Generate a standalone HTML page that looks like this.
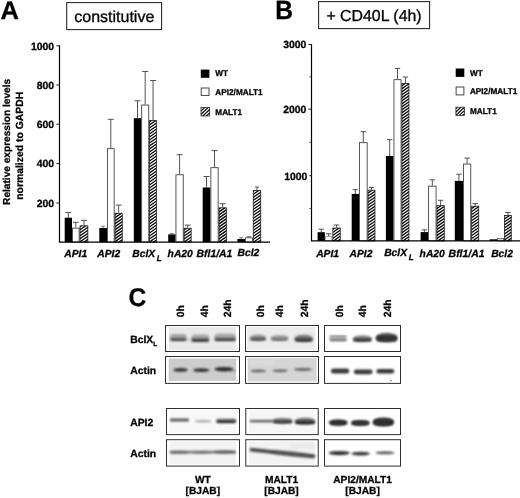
<!DOCTYPE html>
<html><head><meta charset="utf-8"><title>Figure</title>
<style>html,body{margin:0;padding:0;background:#fff;}svg{display:block;filter:blur(0.45px);}text{font-family:"Liberation Sans", Arial, sans-serif;fill:#000;text-rendering:geometricPrecision;}text[font-weight=bold],g[font-weight=bold] text{stroke:#000;stroke-width:0.28px;stroke-linejoin:round;}</style>
</head><body>
<svg width="520" height="498" viewBox="0 0 520 498">
<defs>
<filter id="b0" x="-30%" y="-150%" width="160%" height="400%"><feGaussianBlur stdDeviation="0.6"/></filter>
<filter id="b1" x="-30%" y="-150%" width="160%" height="400%"><feGaussianBlur stdDeviation="0.9"/></filter>
<filter id="b2" x="-30%" y="-150%" width="160%" height="400%"><feGaussianBlur stdDeviation="1.2"/></filter>
<filter id="b3" x="-30%" y="-150%" width="160%" height="400%"><feGaussianBlur stdDeviation="1.6"/></filter>
<filter id="soft" x="-5%" y="-5%" width="110%" height="110%"><feGaussianBlur stdDeviation="0.35"/></filter>
</defs>
<rect width="520" height="498" fill="#fff"/>
<g font-weight="bold">
<text x="0.6" y="18.8" font-size="25.5px">A</text>
<text transform="translate(275.3,19.1) scale(0.93,1)" font-size="26.4px">B</text>
<text transform="translate(128.6,305.5) scale(0.96,1)" font-size="25.6px">C</text>
</g>
<rect x="66.70" y="2.60" width="94.90" height="27.00" fill="#fff" stroke="#222" stroke-width="1.05"/>
<text x="114.30" y="22.30" font-size="16.0px" text-anchor="middle" stroke="#000" stroke-width="0.32">constitutive</text>
<rect x="318.60" y="1.60" width="111.00" height="27.00" fill="#fff" stroke="#222" stroke-width="1.05"/>
<text x="374.00" y="20.90" font-size="15.9px" text-anchor="middle" stroke="#000" stroke-width="0.32">+ CD40L (4h)</text>
<path d="M68.35 217.70 V212.60 M65.35 212.60 H71.35" stroke="#4a4a4a" stroke-width="0.95" fill="none"/>
<rect x="64.70" y="217.70" width="7.30" height="24.40" fill="#000"/>
<path d="M75.80 227.70 V222.30 M72.80 222.30 H78.80" stroke="#4a4a4a" stroke-width="0.95" fill="none"/>
<rect x="72.45" y="228.15" width="6.70" height="13.95" fill="#fff" stroke="#444" stroke-width="0.9"/>
<path d="M83.95 225.40 V220.30 M80.95 220.30 H86.95" stroke="#4a4a4a" stroke-width="0.95" fill="none"/>
<clipPath id="c1"><rect x="80.05" y="225.85" width="7.80" height="16.25"/></clipPath>
<rect x="80.05" y="225.85" width="7.80" height="16.25" fill="#fff"/>
<path d="M79.05 221.46 l9.80 -6.76 M79.05 224.46 l9.80 -6.76 M79.05 227.46 l9.80 -6.76 M79.05 230.46 l9.80 -6.76 M79.05 233.46 l9.80 -6.76 M79.05 236.46 l9.80 -6.76 M79.05 239.46 l9.80 -6.76 M79.05 242.46 l9.80 -6.76 M79.05 245.46 l9.80 -6.76 M79.05 248.46 l9.80 -6.76 M79.05 251.46 l9.80 -6.76 M79.05 254.46 l9.80 -6.76" stroke="#000" stroke-width="1.3" fill="none" clip-path="url(#c1)"/>
<rect x="80.05" y="225.85" width="7.80" height="16.25" fill="none" stroke="#111" stroke-width="0.75"/>
<path d="M103.15 228.00 V226.20 M101.15 226.20 H105.15" stroke="#777" stroke-width="0.95" fill="none"/>
<rect x="99.30" y="228.00" width="7.70" height="14.10" fill="#000"/>
<path d="M110.80 148.20 V119.30 M107.80 119.30 H113.80" stroke="#4a4a4a" stroke-width="0.95" fill="none"/>
<rect x="107.45" y="148.65" width="6.70" height="93.45" fill="#fff" stroke="#444" stroke-width="0.9"/>
<path d="M118.65 212.80 V205.10 M115.65 205.10 H121.65" stroke="#4a4a4a" stroke-width="0.95" fill="none"/>
<clipPath id="c2"><rect x="115.05" y="213.25" width="7.20" height="28.85"/></clipPath>
<rect x="115.05" y="213.25" width="7.20" height="28.85" fill="#fff"/>
<path d="M114.05 209.31 l9.20 -6.35 M114.05 212.31 l9.20 -6.35 M114.05 215.31 l9.20 -6.35 M114.05 218.31 l9.20 -6.35 M114.05 221.31 l9.20 -6.35 M114.05 224.31 l9.20 -6.35 M114.05 227.31 l9.20 -6.35 M114.05 230.31 l9.20 -6.35 M114.05 233.31 l9.20 -6.35 M114.05 236.31 l9.20 -6.35 M114.05 239.31 l9.20 -6.35 M114.05 242.31 l9.20 -6.35 M114.05 245.31 l9.20 -6.35 M114.05 248.31 l9.20 -6.35 M114.05 251.31 l9.20 -6.35 M114.05 254.31 l9.20 -6.35" stroke="#000" stroke-width="1.3" fill="none" clip-path="url(#c2)"/>
<rect x="115.05" y="213.25" width="7.20" height="28.85" fill="none" stroke="#111" stroke-width="0.75"/>
<path d="M137.50 118.20 V100.80 M134.50 100.80 H140.50" stroke="#4a4a4a" stroke-width="0.95" fill="none"/>
<rect x="133.80" y="118.20" width="7.40" height="123.90" fill="#000"/>
<path d="M145.20 104.60 V71.50 M142.20 71.50 H148.20" stroke="#4a4a4a" stroke-width="0.95" fill="none"/>
<rect x="141.65" y="105.05" width="7.10" height="137.05" fill="#fff" stroke="#444" stroke-width="0.9"/>
<path d="M153.05 120.00 V80.50 M150.05 80.50 H156.05" stroke="#4a4a4a" stroke-width="0.95" fill="none"/>
<clipPath id="c3"><rect x="149.65" y="120.45" width="6.80" height="121.65"/></clipPath>
<rect x="149.65" y="120.45" width="6.80" height="121.65" fill="#fff"/>
<path d="M148.65 116.43 l8.80 -6.07 M148.65 119.43 l8.80 -6.07 M148.65 122.43 l8.80 -6.07 M148.65 125.43 l8.80 -6.07 M148.65 128.43 l8.80 -6.07 M148.65 131.43 l8.80 -6.07 M148.65 134.43 l8.80 -6.07 M148.65 137.43 l8.80 -6.07 M148.65 140.43 l8.80 -6.07 M148.65 143.43 l8.80 -6.07 M148.65 146.43 l8.80 -6.07 M148.65 149.43 l8.80 -6.07 M148.65 152.43 l8.80 -6.07 M148.65 155.43 l8.80 -6.07 M148.65 158.43 l8.80 -6.07 M148.65 161.43 l8.80 -6.07 M148.65 164.43 l8.80 -6.07 M148.65 167.43 l8.80 -6.07 M148.65 170.43 l8.80 -6.07 M148.65 173.43 l8.80 -6.07 M148.65 176.43 l8.80 -6.07 M148.65 179.43 l8.80 -6.07 M148.65 182.43 l8.80 -6.07 M148.65 185.43 l8.80 -6.07 M148.65 188.43 l8.80 -6.07 M148.65 191.43 l8.80 -6.07 M148.65 194.43 l8.80 -6.07 M148.65 197.43 l8.80 -6.07 M148.65 200.43 l8.80 -6.07 M148.65 203.43 l8.80 -6.07 M148.65 206.43 l8.80 -6.07 M148.65 209.43 l8.80 -6.07 M148.65 212.43 l8.80 -6.07 M148.65 215.43 l8.80 -6.07 M148.65 218.43 l8.80 -6.07 M148.65 221.43 l8.80 -6.07 M148.65 224.43 l8.80 -6.07 M148.65 227.43 l8.80 -6.07 M148.65 230.43 l8.80 -6.07 M148.65 233.43 l8.80 -6.07 M148.65 236.43 l8.80 -6.07 M148.65 239.43 l8.80 -6.07 M148.65 242.43 l8.80 -6.07 M148.65 245.43 l8.80 -6.07 M148.65 248.43 l8.80 -6.07 M148.65 251.43 l8.80 -6.07" stroke="#000" stroke-width="1.3" fill="none" clip-path="url(#c3)"/>
<rect x="149.65" y="120.45" width="6.80" height="121.65" fill="none" stroke="#111" stroke-width="0.75"/>
<path d="M171.85 234.40 V233.50 M169.85 233.50 H173.85" stroke="#777" stroke-width="0.95" fill="none"/>
<rect x="168.20" y="234.40" width="7.30" height="7.70" fill="#000"/>
<path d="M179.60 174.30 V154.70 M176.60 154.70 H182.60" stroke="#4a4a4a" stroke-width="0.95" fill="none"/>
<rect x="175.95" y="174.75" width="7.30" height="67.35" fill="#fff" stroke="#444" stroke-width="0.9"/>
<path d="M187.65 227.80 V225.10 M184.65 225.10 H190.65" stroke="#4a4a4a" stroke-width="0.95" fill="none"/>
<clipPath id="c4"><rect x="184.15" y="228.25" width="7.00" height="13.85"/></clipPath>
<rect x="184.15" y="228.25" width="7.00" height="13.85" fill="#fff"/>
<path d="M183.15 224.63 l9.00 -6.21 M183.15 227.63 l9.00 -6.21 M183.15 230.63 l9.00 -6.21 M183.15 233.63 l9.00 -6.21 M183.15 236.63 l9.00 -6.21 M183.15 239.63 l9.00 -6.21 M183.15 242.63 l9.00 -6.21 M183.15 245.63 l9.00 -6.21 M183.15 248.63 l9.00 -6.21 M183.15 251.63 l9.00 -6.21" stroke="#000" stroke-width="1.3" fill="none" clip-path="url(#c4)"/>
<rect x="184.15" y="228.25" width="7.00" height="13.85" fill="none" stroke="#111" stroke-width="0.75"/>
<path d="M206.55 187.50 V176.50 M203.55 176.50 H209.55" stroke="#4a4a4a" stroke-width="0.95" fill="none"/>
<rect x="202.70" y="187.50" width="7.70" height="54.60" fill="#000"/>
<path d="M214.50 167.20 V150.60 M211.50 150.60 H217.50" stroke="#4a4a4a" stroke-width="0.95" fill="none"/>
<rect x="210.85" y="167.65" width="7.30" height="74.45" fill="#fff" stroke="#444" stroke-width="0.9"/>
<path d="M222.70 207.40 V203.70 M219.70 203.70 H225.70" stroke="#4a4a4a" stroke-width="0.95" fill="none"/>
<clipPath id="c5"><rect x="219.05" y="207.85" width="7.30" height="34.25"/></clipPath>
<rect x="219.05" y="207.85" width="7.30" height="34.25" fill="#fff"/>
<path d="M218.05 203.55 l9.30 -6.42 M218.05 206.55 l9.30 -6.42 M218.05 209.55 l9.30 -6.42 M218.05 212.55 l9.30 -6.42 M218.05 215.55 l9.30 -6.42 M218.05 218.55 l9.30 -6.42 M218.05 221.55 l9.30 -6.42 M218.05 224.55 l9.30 -6.42 M218.05 227.55 l9.30 -6.42 M218.05 230.55 l9.30 -6.42 M218.05 233.55 l9.30 -6.42 M218.05 236.55 l9.30 -6.42 M218.05 239.55 l9.30 -6.42 M218.05 242.55 l9.30 -6.42 M218.05 245.55 l9.30 -6.42 M218.05 248.55 l9.30 -6.42 M218.05 251.55 l9.30 -6.42" stroke="#000" stroke-width="1.3" fill="none" clip-path="url(#c5)"/>
<rect x="219.05" y="207.85" width="7.30" height="34.25" fill="none" stroke="#111" stroke-width="0.75"/>
<path d="M241.25 239.00 V237.70 M239.25 237.70 H243.25" stroke="#777" stroke-width="0.95" fill="none"/>
<rect x="237.40" y="239.00" width="7.70" height="3.10" fill="#000"/>
<path d="M248.95 237.30 V236.50 M246.95 236.50 H250.95" stroke="#777" stroke-width="0.95" fill="none"/>
<rect x="245.55" y="237.75" width="6.80" height="4.35" fill="#fff" stroke="#444" stroke-width="0.9"/>
<path d="M257.00 190.00 V187.00 M255.00 187.00 H259.00" stroke="#4a4a4a" stroke-width="0.95" fill="none"/>
<clipPath id="c6"><rect x="253.25" y="190.45" width="7.50" height="51.65"/></clipPath>
<rect x="253.25" y="190.45" width="7.50" height="51.65" fill="#fff"/>
<path d="M252.25 185.95 l9.50 -6.55 M252.25 188.95 l9.50 -6.55 M252.25 191.95 l9.50 -6.55 M252.25 194.95 l9.50 -6.55 M252.25 197.95 l9.50 -6.55 M252.25 200.95 l9.50 -6.55 M252.25 203.95 l9.50 -6.55 M252.25 206.95 l9.50 -6.55 M252.25 209.95 l9.50 -6.55 M252.25 212.95 l9.50 -6.55 M252.25 215.95 l9.50 -6.55 M252.25 218.95 l9.50 -6.55 M252.25 221.95 l9.50 -6.55 M252.25 224.95 l9.50 -6.55 M252.25 227.95 l9.50 -6.55 M252.25 230.95 l9.50 -6.55 M252.25 233.95 l9.50 -6.55 M252.25 236.95 l9.50 -6.55 M252.25 239.95 l9.50 -6.55 M252.25 242.95 l9.50 -6.55 M252.25 245.95 l9.50 -6.55 M252.25 248.95 l9.50 -6.55 M252.25 251.95 l9.50 -6.55" stroke="#000" stroke-width="1.3" fill="none" clip-path="url(#c6)"/>
<rect x="253.25" y="190.45" width="7.50" height="51.65" fill="none" stroke="#111" stroke-width="0.75"/>
<path d="M59.50 45.30 V242.10 H270.00" stroke="#000" stroke-width="1.2" fill="none"/>
<path d="M56.40 45.80 H59.50" stroke="#111" stroke-width="0.95"/>
<text x="54.00" y="49.60" font-size="10.4px" font-weight="bold" text-anchor="end">1000</text>
<path d="M56.40 85.00 H59.50" stroke="#111" stroke-width="0.95"/>
<text x="54.00" y="88.80" font-size="10.4px" font-weight="bold" text-anchor="end">800</text>
<path d="M56.40 124.20 H59.50" stroke="#111" stroke-width="0.95"/>
<text x="54.00" y="128.00" font-size="10.4px" font-weight="bold" text-anchor="end">600</text>
<path d="M56.40 163.60 H59.50" stroke="#111" stroke-width="0.95"/>
<text x="54.00" y="167.40" font-size="10.4px" font-weight="bold" text-anchor="end">400</text>
<path d="M56.40 203.00 H59.50" stroke="#111" stroke-width="0.95"/>
<text x="54.00" y="206.80" font-size="10.4px" font-weight="bold" text-anchor="end">200</text>
<path d="M321.25 232.20 V229.20 M318.55 229.20 H323.95" stroke="#4a4a4a" stroke-width="0.95" fill="none"/>
<rect x="317.60" y="232.20" width="7.30" height="8.70" fill="#000"/>
<path d="M328.65 236.20 V233.80 M325.95 233.80 H331.35" stroke="#4a4a4a" stroke-width="0.95" fill="none"/>
<rect x="325.35" y="236.65" width="6.60" height="4.25" fill="#fff" stroke="#9a9a9a" stroke-width="0.9"/>
<path d="M336.55 227.60 V225.00 M333.85 225.00 H339.25" stroke="#4a4a4a" stroke-width="0.95" fill="none"/>
<clipPath id="c7"><rect x="332.85" y="228.05" width="7.40" height="12.85"/></clipPath>
<rect x="332.85" y="228.05" width="7.40" height="12.85" fill="#fff"/>
<path d="M331.85 224.02 l9.40 -6.49 M331.85 227.02 l9.40 -6.49 M331.85 230.02 l9.40 -6.49 M331.85 233.02 l9.40 -6.49 M331.85 236.02 l9.40 -6.49 M331.85 239.02 l9.40 -6.49 M331.85 242.02 l9.40 -6.49 M331.85 245.02 l9.40 -6.49 M331.85 248.02 l9.40 -6.49 M331.85 251.02 l9.40 -6.49" stroke="#000" stroke-width="1.3" fill="none" clip-path="url(#c7)"/>
<rect x="332.85" y="228.05" width="7.40" height="12.85" fill="none" stroke="#111" stroke-width="0.75"/>
<path d="M355.35 193.90 V189.70 M352.65 189.70 H358.05" stroke="#4a4a4a" stroke-width="0.95" fill="none"/>
<rect x="351.70" y="193.90" width="7.30" height="47.00" fill="#000"/>
<path d="M363.30 142.20 V131.70 M360.60 131.70 H366.00" stroke="#4a4a4a" stroke-width="0.95" fill="none"/>
<rect x="359.45" y="142.65" width="7.70" height="98.25" fill="#fff" stroke="#444" stroke-width="0.9"/>
<path d="M371.50 189.70 V187.40 M368.80 187.40 H374.20" stroke="#4a4a4a" stroke-width="0.95" fill="none"/>
<clipPath id="c8"><rect x="368.05" y="190.15" width="6.90" height="50.75"/></clipPath>
<rect x="368.05" y="190.15" width="6.90" height="50.75" fill="#fff"/>
<path d="M367.05 184.74 l8.90 -6.14 M367.05 187.74 l8.90 -6.14 M367.05 190.74 l8.90 -6.14 M367.05 193.74 l8.90 -6.14 M367.05 196.74 l8.90 -6.14 M367.05 199.74 l8.90 -6.14 M367.05 202.74 l8.90 -6.14 M367.05 205.74 l8.90 -6.14 M367.05 208.74 l8.90 -6.14 M367.05 211.74 l8.90 -6.14 M367.05 214.74 l8.90 -6.14 M367.05 217.74 l8.90 -6.14 M367.05 220.74 l8.90 -6.14 M367.05 223.74 l8.90 -6.14 M367.05 226.74 l8.90 -6.14 M367.05 229.74 l8.90 -6.14 M367.05 232.74 l8.90 -6.14 M367.05 235.74 l8.90 -6.14 M367.05 238.74 l8.90 -6.14 M367.05 241.74 l8.90 -6.14 M367.05 244.74 l8.90 -6.14 M367.05 247.74 l8.90 -6.14 M367.05 250.74 l8.90 -6.14" stroke="#000" stroke-width="1.3" fill="none" clip-path="url(#c8)"/>
<rect x="368.05" y="190.15" width="6.90" height="50.75" fill="none" stroke="#111" stroke-width="0.75"/>
<path d="M389.70 156.00 V139.60 M387.00 139.60 H392.40" stroke="#4a4a4a" stroke-width="0.95" fill="none"/>
<rect x="385.90" y="156.00" width="7.60" height="84.90" fill="#000"/>
<path d="M397.50 79.20 V68.50 M394.80 68.50 H400.20" stroke="#4a4a4a" stroke-width="0.95" fill="none"/>
<rect x="393.95" y="79.65" width="7.10" height="161.25" fill="#fff" stroke="#444" stroke-width="0.9"/>
<path d="M405.45 83.00 V77.00 M402.75 77.00 H408.15" stroke="#4a4a4a" stroke-width="0.95" fill="none"/>
<clipPath id="c9"><rect x="401.95" y="83.45" width="7.00" height="157.45"/></clipPath>
<rect x="401.95" y="83.45" width="7.00" height="157.45" fill="#fff"/>
<path d="M400.95 80.34 l9.00 -6.21 M400.95 83.34 l9.00 -6.21 M400.95 86.34 l9.00 -6.21 M400.95 89.34 l9.00 -6.21 M400.95 92.34 l9.00 -6.21 M400.95 95.34 l9.00 -6.21 M400.95 98.34 l9.00 -6.21 M400.95 101.34 l9.00 -6.21 M400.95 104.34 l9.00 -6.21 M400.95 107.34 l9.00 -6.21 M400.95 110.34 l9.00 -6.21 M400.95 113.34 l9.00 -6.21 M400.95 116.34 l9.00 -6.21 M400.95 119.34 l9.00 -6.21 M400.95 122.34 l9.00 -6.21 M400.95 125.34 l9.00 -6.21 M400.95 128.34 l9.00 -6.21 M400.95 131.34 l9.00 -6.21 M400.95 134.34 l9.00 -6.21 M400.95 137.34 l9.00 -6.21 M400.95 140.34 l9.00 -6.21 M400.95 143.34 l9.00 -6.21 M400.95 146.34 l9.00 -6.21 M400.95 149.34 l9.00 -6.21 M400.95 152.34 l9.00 -6.21 M400.95 155.34 l9.00 -6.21 M400.95 158.34 l9.00 -6.21 M400.95 161.34 l9.00 -6.21 M400.95 164.34 l9.00 -6.21 M400.95 167.34 l9.00 -6.21 M400.95 170.34 l9.00 -6.21 M400.95 173.34 l9.00 -6.21 M400.95 176.34 l9.00 -6.21 M400.95 179.34 l9.00 -6.21 M400.95 182.34 l9.00 -6.21 M400.95 185.34 l9.00 -6.21 M400.95 188.34 l9.00 -6.21 M400.95 191.34 l9.00 -6.21 M400.95 194.34 l9.00 -6.21 M400.95 197.34 l9.00 -6.21 M400.95 200.34 l9.00 -6.21 M400.95 203.34 l9.00 -6.21 M400.95 206.34 l9.00 -6.21 M400.95 209.34 l9.00 -6.21 M400.95 212.34 l9.00 -6.21 M400.95 215.34 l9.00 -6.21 M400.95 218.34 l9.00 -6.21 M400.95 221.34 l9.00 -6.21 M400.95 224.34 l9.00 -6.21 M400.95 227.34 l9.00 -6.21 M400.95 230.34 l9.00 -6.21 M400.95 233.34 l9.00 -6.21 M400.95 236.34 l9.00 -6.21 M400.95 239.34 l9.00 -6.21 M400.95 242.34 l9.00 -6.21 M400.95 245.34 l9.00 -6.21 M400.95 248.34 l9.00 -6.21 M400.95 251.34 l9.00 -6.21" stroke="#000" stroke-width="1.3" fill="none" clip-path="url(#c9)"/>
<rect x="401.95" y="83.45" width="7.00" height="157.45" fill="none" stroke="#111" stroke-width="0.75"/>
<path d="M424.35 232.10 V229.90 M421.65 229.90 H427.05" stroke="#4a4a4a" stroke-width="0.95" fill="none"/>
<rect x="420.60" y="232.10" width="7.50" height="8.80" fill="#000"/>
<path d="M432.30 185.70 V179.80 M429.60 179.80 H435.00" stroke="#4a4a4a" stroke-width="0.95" fill="none"/>
<rect x="428.55" y="186.15" width="7.50" height="54.75" fill="#fff" stroke="#444" stroke-width="0.9"/>
<path d="M440.60 205.20 V200.30 M437.90 200.30 H443.30" stroke="#4a4a4a" stroke-width="0.95" fill="none"/>
<clipPath id="c10"><rect x="436.95" y="205.65" width="7.30" height="35.25"/></clipPath>
<rect x="436.95" y="205.65" width="7.30" height="35.25" fill="#fff"/>
<path d="M435.95 200.19 l9.30 -6.42 M435.95 203.19 l9.30 -6.42 M435.95 206.19 l9.30 -6.42 M435.95 209.19 l9.30 -6.42 M435.95 212.19 l9.30 -6.42 M435.95 215.19 l9.30 -6.42 M435.95 218.19 l9.30 -6.42 M435.95 221.19 l9.30 -6.42 M435.95 224.19 l9.30 -6.42 M435.95 227.19 l9.30 -6.42 M435.95 230.19 l9.30 -6.42 M435.95 233.19 l9.30 -6.42 M435.95 236.19 l9.30 -6.42 M435.95 239.19 l9.30 -6.42 M435.95 242.19 l9.30 -6.42 M435.95 245.19 l9.30 -6.42 M435.95 248.19 l9.30 -6.42 M435.95 251.19 l9.30 -6.42" stroke="#000" stroke-width="1.3" fill="none" clip-path="url(#c10)"/>
<rect x="436.95" y="205.65" width="7.30" height="35.25" fill="none" stroke="#111" stroke-width="0.75"/>
<path d="M458.90 180.90 V174.20 M456.20 174.20 H461.60" stroke="#4a4a4a" stroke-width="0.95" fill="none"/>
<rect x="454.80" y="180.90" width="8.20" height="60.00" fill="#000"/>
<path d="M467.10 163.60 V158.10 M464.40 158.10 H469.80" stroke="#4a4a4a" stroke-width="0.95" fill="none"/>
<rect x="463.45" y="164.05" width="7.30" height="76.85" fill="#fff" stroke="#444" stroke-width="0.9"/>
<path d="M475.20 205.80 V203.60 M472.50 203.60 H477.90" stroke="#4a4a4a" stroke-width="0.95" fill="none"/>
<clipPath id="c11"><rect x="471.65" y="206.25" width="7.10" height="34.65"/></clipPath>
<rect x="471.65" y="206.25" width="7.10" height="34.65" fill="#fff"/>
<path d="M470.65 200.25 l9.10 -6.28 M470.65 203.25 l9.10 -6.28 M470.65 206.25 l9.10 -6.28 M470.65 209.25 l9.10 -6.28 M470.65 212.25 l9.10 -6.28 M470.65 215.25 l9.10 -6.28 M470.65 218.25 l9.10 -6.28 M470.65 221.25 l9.10 -6.28 M470.65 224.25 l9.10 -6.28 M470.65 227.25 l9.10 -6.28 M470.65 230.25 l9.10 -6.28 M470.65 233.25 l9.10 -6.28 M470.65 236.25 l9.10 -6.28 M470.65 239.25 l9.10 -6.28 M470.65 242.25 l9.10 -6.28 M470.65 245.25 l9.10 -6.28 M470.65 248.25 l9.10 -6.28 M470.65 251.25 l9.10 -6.28" stroke="#000" stroke-width="1.3" fill="none" clip-path="url(#c11)"/>
<rect x="471.65" y="206.25" width="7.10" height="34.65" fill="none" stroke="#111" stroke-width="0.75"/>
<rect x="489.50" y="239.30" width="7.50" height="1.60" fill="#000"/>
<rect x="497.45" y="238.75" width="6.20" height="2.15" fill="#fff" stroke="#444" stroke-width="0.9"/>
<path d="M507.90 215.00 V212.50 M505.20 212.50 H510.60" stroke="#4a4a4a" stroke-width="0.95" fill="none"/>
<clipPath id="c12"><rect x="504.55" y="215.45" width="6.70" height="25.45"/></clipPath>
<rect x="504.55" y="215.45" width="6.70" height="25.45" fill="#fff"/>
<path d="M503.55 210.55 l8.70 -6.00 M503.55 213.55 l8.70 -6.00 M503.55 216.55 l8.70 -6.00 M503.55 219.55 l8.70 -6.00 M503.55 222.55 l8.70 -6.00 M503.55 225.55 l8.70 -6.00 M503.55 228.55 l8.70 -6.00 M503.55 231.55 l8.70 -6.00 M503.55 234.55 l8.70 -6.00 M503.55 237.55 l8.70 -6.00 M503.55 240.55 l8.70 -6.00 M503.55 243.55 l8.70 -6.00 M503.55 246.55 l8.70 -6.00 M503.55 249.55 l8.70 -6.00 M503.55 252.55 l8.70 -6.00" stroke="#000" stroke-width="1.3" fill="none" clip-path="url(#c12)"/>
<rect x="504.55" y="215.45" width="6.70" height="25.45" fill="none" stroke="#111" stroke-width="0.75"/>
<path d="M311.50 44.00 V240.90 H520.00" stroke="#000" stroke-width="1.2" fill="none"/>
<path d="M308.40 44.50 H311.50" stroke="#111" stroke-width="0.95"/>
<text x="306.30" y="48.30" font-size="10.4px" font-weight="bold" text-anchor="end">3000</text>
<path d="M308.40 109.20 H311.50" stroke="#111" stroke-width="0.95"/>
<text x="306.30" y="113.00" font-size="10.4px" font-weight="bold" text-anchor="end">2000</text>
<path d="M309.30 175.70 H311.50" stroke="#111" stroke-width="0.95"/>
<text x="307.30" y="179.50" font-size="10.4px" font-weight="bold" text-anchor="end">1000</text>
<path d="M309.20 76.80 H311.50" stroke="#333" stroke-width="0.8"/>
<path d="M309.20 142.30 H311.50" stroke="#333" stroke-width="0.8"/>
<path d="M309.20 208.60 H311.50" stroke="#333" stroke-width="0.8"/>
<text transform="translate(9.5,141.9) rotate(-90)" font-size="10.15px" font-weight="bold" text-anchor="middle">Relative expression levels</text>
<text transform="translate(22.9,145.8) rotate(-90)" font-size="10.4px" font-weight="bold" text-anchor="middle">normalized to GAPDH</text>
<text x="64.30" y="257.10" font-size="10.3px" font-weight="bold" font-style="italic">API1</text>
<text x="97.30" y="257.10" font-size="10.3px" font-weight="bold" font-style="italic">API2</text>
<text x="132.30" y="256.60" font-size="10.3px" font-weight="bold" font-style="italic">BclX<tspan dx="1.6" dy="4.2" font-size="8px">L</tspan></text>
<text x="167.60" y="257.20" font-size="10.3px" font-weight="bold" font-style="italic">hA20</text>
<text x="196.60" y="257.20" font-size="10.4px" font-weight="bold" font-style="italic">Bfl1/A1</text>
<text x="237.60" y="256.40" font-size="10.3px" font-weight="bold" font-style="italic">Bcl2</text>
<text x="316.20" y="257.10" font-size="10.3px" font-weight="bold" font-style="italic">API1</text>
<text x="349.50" y="257.10" font-size="10.3px" font-weight="bold" font-style="italic">API2</text>
<text x="384.20" y="256.20" font-size="10.3px" font-weight="bold" font-style="italic">BclX<tspan dx="1.6" dy="4.2" font-size="8px">L</tspan></text>
<text x="419.60" y="257.10" font-size="10.3px" font-weight="bold" font-style="italic">hA20</text>
<text x="448.60" y="257.10" font-size="10.45px" font-weight="bold" font-style="italic">Bfl1/A1</text>
<text x="491.20" y="257.10" font-size="10.3px" font-weight="bold" font-style="italic">Bcl2</text>
<rect x="200.80" y="69.60" width="8.6" height="8.20" fill="#000"/>
<text transform="translate(215.30,76.20) scale(0.968,1)" font-size="8.5px" font-weight="bold">WT</text>
<rect x="201.20" y="88.00" width="7.8" height="7.40" fill="#fff" stroke="#333" stroke-width="0.9"/>
<text transform="translate(215.30,94.80) scale(0.968,1)" font-size="8.5px" font-weight="bold">API2/MALT1</text>
<clipPath id="c13"><rect x="201.00" y="107.60" width="8.50" height="8.40"/></clipPath>
<rect x="201.00" y="107.60" width="8.50" height="8.40" fill="#fff"/>
<path d="M200.00 101.80 l10.50 -10.19 M200.00 105.20 l10.50 -10.19 M200.00 108.60 l10.50 -10.19 M200.00 112.00 l10.50 -10.19 M200.00 115.40 l10.50 -10.19 M200.00 118.80 l10.50 -10.19 M200.00 122.20 l10.50 -10.19 M200.00 125.60 l10.50 -10.19 M200.00 129.00 l10.50 -10.19 M200.00 132.40 l10.50 -10.19" stroke="#000" stroke-width="1.2" fill="none" clip-path="url(#c13)"/>
<rect x="201.00" y="107.60" width="8.50" height="8.40" fill="none" stroke="#222" stroke-width="0.75"/>
<text transform="translate(215.30,115.00) scale(0.968,1)" font-size="8.5px" font-weight="bold">MALT1</text>
<rect x="455.70" y="68.50" width="8.6" height="8.40" fill="#000"/>
<text transform="translate(469.90,75.50) scale(0.968,1)" font-size="8.5px" font-weight="bold">WT</text>
<rect x="456.10" y="87.00" width="7.8" height="7.90" fill="#fff" stroke="#333" stroke-width="0.9"/>
<text transform="translate(469.90,93.60) scale(0.968,1)" font-size="8.5px" font-weight="bold">API2/MALT1</text>
<clipPath id="c14"><rect x="455.90" y="107.20" width="8.50" height="8.40"/></clipPath>
<rect x="455.90" y="107.20" width="8.50" height="8.40" fill="#fff"/>
<path d="M454.90 102.75 l10.50 -10.19 M454.90 106.15 l10.50 -10.19 M454.90 109.55 l10.50 -10.19 M454.90 112.95 l10.50 -10.19 M454.90 116.35 l10.50 -10.19 M454.90 119.75 l10.50 -10.19 M454.90 123.15 l10.50 -10.19 M454.90 126.55 l10.50 -10.19 M454.90 129.95 l10.50 -10.19" stroke="#000" stroke-width="1.2" fill="none" clip-path="url(#c14)"/>
<rect x="455.90" y="107.20" width="8.50" height="8.40" fill="none" stroke="#222" stroke-width="0.75"/>
<text transform="translate(469.90,114.30) scale(0.968,1)" font-size="8.5px" font-weight="bold">MALT1</text>
<text transform="translate(184.10,317.30) rotate(-90)" font-size="10.4px" font-weight="bold">0h</text>
<text transform="translate(207.90,317.30) rotate(-90)" font-size="10.4px" font-weight="bold">4h</text>
<text transform="translate(231.10,317.30) rotate(-90)" font-size="10.4px" font-weight="bold">24h</text>
<text transform="translate(263.80,317.30) rotate(-90)" font-size="10.4px" font-weight="bold">0h</text>
<text transform="translate(283.30,317.30) rotate(-90)" font-size="10.4px" font-weight="bold">4h</text>
<text transform="translate(308.10,317.30) rotate(-90)" font-size="10.4px" font-weight="bold">24h</text>
<text transform="translate(343.30,317.30) rotate(-90)" font-size="10.4px" font-weight="bold">0h</text>
<text transform="translate(365.60,317.30) rotate(-90)" font-size="10.4px" font-weight="bold">4h</text>
<text transform="translate(390.80,317.30) rotate(-90)" font-size="10.4px" font-weight="bold">24h</text>
<text x="130.2" y="343.4" font-size="10.4px" font-weight="bold">BclX<tspan dy="2.2" font-size="6.4px">L</tspan></text>
<text x="130.2" y="373.5" font-size="10.4px" font-weight="bold">Actin</text>
<text x="130.2" y="425.6" font-size="10.4px" font-weight="bold">API2</text>
<text x="130.2" y="456.8" font-size="10.4px" font-weight="bold">Actin</text>
<text x="202.80" y="482.5" font-size="10.2px" font-weight="bold" text-anchor="middle">WT</text>
<text x="202.80" y="494.4" font-size="10.2px" font-weight="bold" text-anchor="middle">[BJAB]</text>
<text x="281.50" y="482.5" font-size="10.2px" font-weight="bold" text-anchor="middle">MALT1</text>
<text x="281.50" y="494.4" font-size="10.2px" font-weight="bold" text-anchor="middle">[BJAB]</text>
<text x="362.60" y="482.5" font-size="10.2px" font-weight="bold" text-anchor="middle">API2/MALT1</text>
<text x="362.60" y="494.4" font-size="10.2px" font-weight="bold" text-anchor="middle">[BJAB]</text>
<rect x="165.50" y="325.50" width="74.00" height="26.00" fill="#fff"/>
<rect x="168.90" y="327.10" width="67.20" height="22.80" fill="#e9e9e9" filter="url(#soft)"/>
<rect x="170.00" y="333.90" width="16.60" height="6.70" rx="3.35" fill="#7a7a7a" opacity="0.62" filter="url(#b1)"/>
<rect x="170.20" y="338.20" width="16.20" height="2.70" rx="1.35" fill="#3a3a3a" opacity="0.86" filter="url(#b1)"/>
<rect x="186.00" y="339.00" width="6.00" height="1.60" rx="0.80" fill="#888" opacity="0.4" filter="url(#b1)"/>
<rect x="191.40" y="334.40" width="17.80" height="7.00" rx="3.50" fill="#7a7a7a" opacity="0.62" filter="url(#b1)"/>
<rect x="191.60" y="338.80" width="17.40" height="2.90" rx="1.45" fill="#2e2e2e" opacity="0.92" filter="url(#b1)"/>
<rect x="214.40" y="333.70" width="21.40" height="7.10" rx="3.55" fill="#7a7a7a" opacity="0.62" filter="url(#b1)"/>
<rect x="214.60" y="338.20" width="21.00" height="2.90" rx="1.45" fill="#363636" opacity="0.9" filter="url(#b1)"/>
<rect x="165.50" y="325.50" width="74.00" height="26.00" fill="none" stroke="#2e2e2e" stroke-width="1.0"/>
<rect x="245.50" y="325.50" width="73.00" height="26.00" fill="#fff"/>
<rect x="247.10" y="326.90" width="68.40" height="23.00" fill="#ececec" filter="url(#soft)"/>
<ellipse cx="258.00" cy="337.80" rx="8.20" ry="3.27" fill="#707070" opacity="0.7" filter="url(#b1)"/>
<rect x="250.20" y="338.10" width="15.60" height="2.40" rx="1.20" fill="#3a3a3a" opacity="0.8" filter="url(#b1)"/>
<ellipse cx="279.50" cy="338.00" rx="8.90" ry="3.08" fill="#808080" opacity="0.7" filter="url(#b1)"/>
<rect x="271.00" y="338.30" width="17.00" height="2.20" rx="1.10" fill="#505050" opacity="0.7" filter="url(#b1)"/>
<ellipse cx="303.70" cy="338.40" rx="9.30" ry="3.66" fill="#5c5c5c" opacity="0.8" filter="url(#b1)"/>
<rect x="294.80" y="338.70" width="17.80" height="2.80" rx="1.40" fill="#2a2a2a" opacity="0.9" filter="url(#b1)"/>
<rect x="245.50" y="325.50" width="73.00" height="26.00" fill="none" stroke="#2e2e2e" stroke-width="1.0"/>
<rect x="324.50" y="325.50" width="76.00" height="26.00" fill="#fff"/>
<rect x="329.40" y="335.40" width="17.40" height="5.60" rx="2.80" fill="#959595" opacity="0.78" filter="url(#b1)"/>
<rect x="329.40" y="335.25" width="17.20" height="1.50" rx="0.75" fill="#707070" opacity="0.35" filter="url(#b0)"/>
<rect x="329.60" y="339.25" width="17.20" height="1.90" rx="0.95" fill="#4a4a4a" opacity="0.6" filter="url(#b1)"/>
<ellipse cx="362.40" cy="338.65" rx="9.60" ry="3.42" fill="#6a6a6a" opacity="0.8" filter="url(#b1)"/>
<rect x="353.20" y="338.50" width="18.40" height="3.00" rx="1.50" fill="#2c2c2c" opacity="0.92" filter="url(#b1)"/>
<ellipse cx="386.60" cy="337.40" rx="10.80" ry="4.48" fill="#444" opacity="0.95" filter="url(#b1)"/>
<rect x="376.20" y="335.90" width="21.00" height="5.80" rx="2.90" fill="#303030" opacity="0.97" filter="url(#b1)"/>
<rect x="324.50" y="325.50" width="76.00" height="26.00" fill="none" stroke="#2e2e2e" stroke-width="1.0"/>
<rect x="165.50" y="356.50" width="74.00" height="26.90" fill="#fff"/>
<rect x="168.70" y="358.50" width="67.40" height="22.50" fill="#cdcdcd" filter="url(#soft)"/>
<ellipse cx="180.60" cy="369.90" rx="7.20" ry="1.96" fill="#2e2e2e" opacity="0.95" filter="url(#b1)"/>
<ellipse cx="201.30" cy="370.10" rx="8.30" ry="1.96" fill="#2e2e2e" opacity="0.95" filter="url(#b1)"/>
<ellipse cx="223.90" cy="369.20" rx="9.50" ry="2.24" fill="#282828" opacity="0.97" filter="url(#b1)"/>
<rect x="230.00" y="370.00" width="5.60" height="1.60" rx="0.80" fill="#555" opacity="0.6" filter="url(#b1)"/>
<rect x="165.50" y="356.50" width="74.00" height="26.90" fill="none" stroke="#2e2e2e" stroke-width="1.0"/>
<rect x="245.50" y="356.50" width="73.00" height="26.90" fill="#fff"/>
<rect x="247.70" y="358.10" width="68.90" height="23.30" fill="#d5d5d5" filter="url(#soft)"/>
<rect x="248.00" y="359.00" width="27.00" height="6.00" rx="3.00" fill="#e0e0e0" opacity="0.6" filter="url(#b3)"/>
<ellipse cx="258.30" cy="370.90" rx="7.90" ry="1.40" fill="#505050" opacity="0.85" filter="url(#b1)"/>
<ellipse cx="280.10" cy="370.80" rx="7.70" ry="1.40" fill="#505050" opacity="0.85" filter="url(#b1)"/>
<ellipse cx="303.00" cy="369.40" rx="9.00" ry="1.51" fill="#505050" opacity="0.85" filter="url(#b1)"/>
<rect x="245.50" y="356.50" width="73.00" height="26.90" fill="none" stroke="#2e2e2e" stroke-width="1.0"/>
<rect x="324.50" y="356.50" width="76.00" height="26.90" fill="#fff"/>
<rect x="331.00" y="368.50" width="18.20" height="5.00" rx="2.50" fill="#303030" opacity="0.97" filter="url(#b1)"/>
<rect x="353.80" y="369.40" width="18.80" height="4.80" rx="2.40" fill="#303030" opacity="0.97" filter="url(#b1)"/>
<rect x="376.40" y="369.00" width="17.80" height="4.60" rx="2.30" fill="#303030" opacity="0.97" filter="url(#b1)"/>
<circle cx="390.9" cy="380.8" r="0.7" fill="#555"/>
<rect x="324.50" y="356.50" width="76.00" height="26.90" fill="none" stroke="#2e2e2e" stroke-width="1.0"/>
<rect x="166.50" y="408.50" width="73.00" height="26.10" fill="#fff"/>
<rect x="169.90" y="410.10" width="66.20" height="22.90" fill="#f8f8f8" filter="url(#soft)"/>
<rect x="169.80" y="418.60" width="19.40" height="3.00" rx="1.50" fill="#484848" opacity="0.9" filter="url(#b1)"/>
<ellipse cx="203.00" cy="421.20" rx="8.40" ry="1.06" fill="#808080" opacity="0.8" filter="url(#b1)"/>
<rect x="216.20" y="418.20" width="20.00" height="4.40" rx="2.20" fill="#777" opacity="0.6" filter="url(#b1)"/>
<rect x="216.40" y="420.10" width="19.60" height="2.80" rx="1.40" fill="#2a2a2a" opacity="0.95" filter="url(#b1)"/>
<rect x="166.50" y="408.50" width="73.00" height="26.10" fill="none" stroke="#2e2e2e" stroke-width="1.0"/>
<rect x="245.80" y="408.50" width="72.40" height="26.10" fill="#fff"/>
<rect x="249.20" y="410.10" width="65.60" height="22.90" fill="#f6f6f6" filter="url(#soft)"/>
<rect x="249.80" y="420.10" width="23.20" height="2.20" rx="1.10" fill="#444" opacity="0.92" filter="url(#b1)"/>
<ellipse cx="282.50" cy="420.80" rx="10.10" ry="3.08" fill="#666" opacity="0.75" filter="url(#b1)"/>
<rect x="272.80" y="420.30" width="19.40" height="3.00" rx="1.50" fill="#303030" opacity="0.9" filter="url(#b1)"/>
<ellipse cx="305.00" cy="421.20" rx="10.40" ry="3.47" fill="#555" opacity="0.8" filter="url(#b1)"/>
<rect x="295.00" y="420.70" width="20.00" height="3.40" rx="1.70" fill="#282828" opacity="0.92" filter="url(#b1)"/>
<rect x="245.80" y="408.50" width="72.40" height="26.10" fill="none" stroke="#2e2e2e" stroke-width="1.0"/>
<rect x="324.50" y="408.50" width="76.00" height="26.10" fill="#fff"/>
<ellipse cx="338.30" cy="422.60" rx="9.50" ry="3.14" fill="#323232" opacity="0.96" filter="url(#b1)"/>
<rect x="330.00" y="420.70" width="16.60" height="4.00" rx="2.00" fill="#2c2c2c" opacity="0.9" filter="url(#b1)"/>
<ellipse cx="360.30" cy="422.90" rx="9.50" ry="3.02" fill="#363636" opacity="0.96" filter="url(#b1)"/>
<rect x="352.00" y="421.10" width="16.60" height="3.80" rx="1.90" fill="#303030" opacity="0.9" filter="url(#b1)"/>
<ellipse cx="383.40" cy="422.00" rx="10.60" ry="4.48" fill="#383838" opacity="0.96" filter="url(#b1)"/>
<rect x="373.40" y="419.60" width="20.00" height="5.60" rx="2.80" fill="#2c2c2c" opacity="0.95" filter="url(#b1)"/>
<rect x="324.50" y="408.50" width="76.00" height="26.10" fill="none" stroke="#2e2e2e" stroke-width="1.0"/>
<rect x="166.50" y="439.70" width="73.00" height="26.40" fill="#fff"/>
<rect x="169.90" y="441.30" width="66.20" height="23.20" fill="#f3f3f3" filter="url(#soft)"/>
<rect x="169.60" y="450.80" width="66.40" height="2.80" rx="1.40" fill="#6a6a6a" opacity="0.85" filter="url(#b1)"/>
<ellipse cx="179.25" cy="452.40" rx="9.25" ry="1.46" fill="#555" opacity="0.5" filter="url(#b1)"/>
<ellipse cx="201.50" cy="452.40" rx="9.50" ry="1.34" fill="#5a5a5a" opacity="0.4" filter="url(#b1)"/>
<ellipse cx="224.80" cy="451.90" rx="10.80" ry="1.68" fill="#4a4a4a" opacity="0.6" filter="url(#b1)"/>
<rect x="166.50" y="439.70" width="73.00" height="26.40" fill="none" stroke="#2e2e2e" stroke-width="1.0"/>
<rect x="245.80" y="439.70" width="72.40" height="26.40" fill="#fff"/>
<rect x="249.20" y="441.30" width="65.60" height="23.20" fill="#f3f3f3" filter="url(#soft)"/>
<rect x="288.00" y="443.00" width="28.00" height="6.00" rx="3.00" fill="#e0e0e0" opacity="0.5" filter="url(#b3)"/>
<rect x="249.50" y="451.30" width="66.00" height="3.40" rx="1.70" fill="#303030" opacity="0.95" filter="url(#b1)" transform="rotate(5.99 282.50 453.00)"/>
<ellipse cx="292.00" cy="454.00" rx="22.00" ry="2.58" fill="#555" opacity="0.5" filter="url(#b2)" transform="rotate(5.99 292.00 454.00)"/>
<rect x="245.80" y="439.70" width="72.40" height="26.40" fill="none" stroke="#2e2e2e" stroke-width="1.0"/>
<rect x="324.50" y="439.70" width="76.00" height="26.40" fill="#fff"/>
<ellipse cx="339.30" cy="453.10" rx="10.70" ry="2.13" fill="#2a2a2a" opacity="0.97" filter="url(#b1)"/>
<ellipse cx="360.70" cy="453.70" rx="9.10" ry="1.90" fill="#303030" opacity="0.96" filter="url(#b1)"/>
<ellipse cx="385.00" cy="452.80" rx="9.60" ry="1.57" fill="#4c4c4c" opacity="0.92" filter="url(#b1)"/>
<rect x="324.50" y="439.70" width="76.00" height="26.40" fill="none" stroke="#2e2e2e" stroke-width="1.0"/>
</svg>
</body></html>
